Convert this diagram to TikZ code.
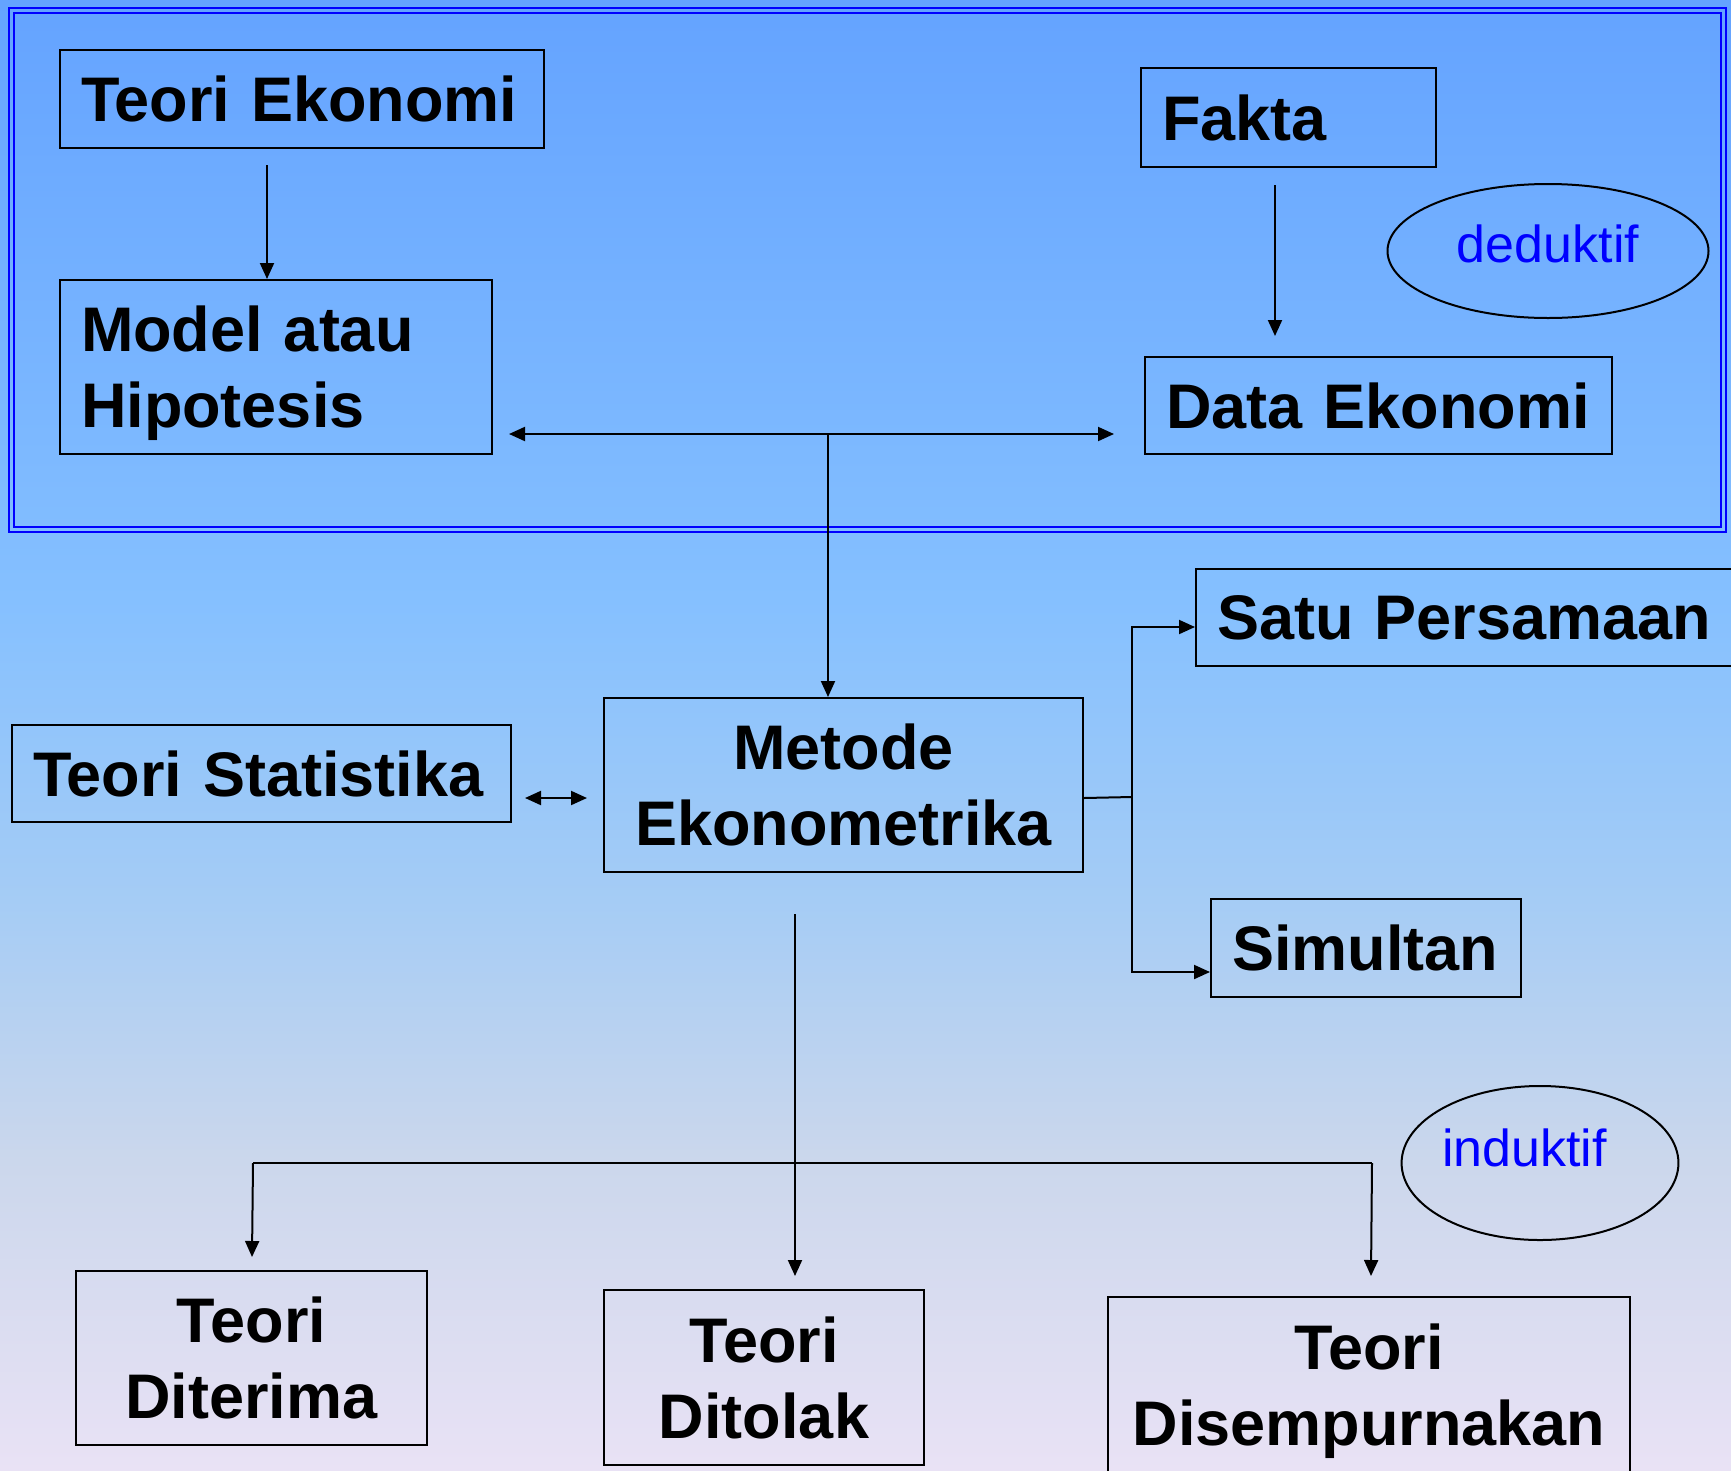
\documentclass[tikz,border=0pt]{standalone}
\usepackage{fontspec}
\setmainfont{Liberation Sans}
\usetikzlibrary{arrows.meta,shapes.geometric,calc}
\definecolor{bgA}{RGB}{100,163,255}
\definecolor{bgB}{RGB}{133,192,255}
\definecolor{bgC}{RGB}{165,204,245}
\definecolor{bgD}{RGB}{203,215,236}
\definecolor{bgE}{RGB}{233,226,245}
\definecolor{frameblue}{RGB}{0,0,255}
\pgfdeclareverticalshading{bgshade}{100bp}{color(0bp)=(bgE); color(25bp)=(bgE); color(35.54bp)=(bgD); color(44.39bp)=(bgC); color(54.59bp)=(bgB); color(75bp)=(bgA); color(100bp)=(bgA)}
\begin{document}
\begin{tikzpicture}[x=1pt,y=-1pt,
  box/.style={draw=black, line width=2pt, inner xsep=21pt, inner ysep=0pt, font=\fontsize{63pt}{76pt}\selectfont\bfseries},
  lbox/.style={box, align=left},
  cbox/.style={box, align=center},
  arr/.style={line width=2pt, -{Triangle[length=16pt,width=14pt]}},
  arrs/.style={line width=2pt, {Triangle[length=16pt,width=14pt]}-{Triangle[length=16pt,width=14pt]}},
  link/.style={line width=2pt},
  oval/.style={ellipse, draw=black, line width=2pt, inner sep=0pt, text=frameblue, font=\fontsize{52pt}{62pt}\selectfont},
  frameline/.style={draw=frameblue, line width=2.2pt}
]
\useasboundingbox (0,0) rectangle (1731,1470);
\shade[shading=bgshade] (0,0) rectangle (1731,1470);

% double blue frame
\draw[frameline] (9,8) rectangle (1726,532);
\draw[frameline] (14,13) rectangle (1721,527);

% boxes
\node[lbox, text width=442pt, minimum height=98pt] (te) at (302,99) {Teori Ekonomi};
\node[lbox, text width=390pt, minimum height=174pt] (model) at (276,367) {Model atau\\Hi\smash{p}otesis};
\node[lbox, text width=253pt, minimum height=99pt] (fakta) at (1288.5,117.5) {Fakta};
\node[lbox, text width=425pt, minimum height=97pt] (data) at (1378.5,405.5) {Data Ekonomi};
\node[lbox, text width=457pt, minimum height=97pt] (ts) at (261.5,773.5) {Teori Statistika};
\node[cbox, minimum width=479pt, minimum height=174pt] (me) at (843.5,785) {Metode\\Ekonometrika};
\node[lbox, text width=518pt, minimum height=97pt] (sp) at (1476,617.5) {Satu Persamaan};
\node[lbox, text width=268pt, minimum height=98pt] (sim) at (1366,948) {Simultan};
\node[cbox, minimum width=351pt, minimum height=174pt] (ter) at (251.5,1358) {Teori\\Diterima};
\node[cbox, minimum width=320pt, minimum height=175pt] (tol) at (764,1377.5) {Teori\\Ditolak};
\node[cbox, minimum width=522pt, minimum height=175pt] (sem) at (1369,1384.5) {Teori\\Disem\smash{p}urnakan};

% ellipses
\node[oval, minimum width=321pt, minimum height=134pt, text depth=14pt] (ded) at (1548,251) {deduktif};
\node[oval, minimum width=274pt, minimum height=154pt, text depth=30pt] (ind) at (1540,1163) {induktif\hspace*{31pt}};

% connectors
\draw[arr] ($(te.south west)+(208,16)$) -- ($(model.north west)+(208,0)$);
\draw[arr] ($(fakta.south west)+(135,17)$) -- ($(data.north west)+(131,-20)$);
\draw[arrs] ($(model.south east)+(16,-21)$) -- ($(data.south west)+(-30,-21)$);
\coordinate (hub) at (828,433);
\draw[arr] (hub) -- (me.north -| hub);
\draw[arrs] ($(ts.south east)+(13,-25)$) -- ($(me.south west)+(-16,-75)$);
\coordinate (split) at (1132,797);
\draw[link] ($(me.south east)+(0,-75)$) -- (split);
\draw[arr] (split) |- ($(sp.south west)+(0,-40)$);
\draw[arr] (split) |- ($(sim.south west)+(0,-26)$);
\draw[arr] ($(me.south west)+(192,41)$) -- ($(tol.north west)+(192,-13)$);
\coordinate (barL) at (253,1163);
\coordinate (barR) at (1372,1163);
\draw[link] (barL) -- (barR);
\draw[arr] (barL) -- ($(ter.north west)+(177,-13)$);
\draw[arr] (barR) -- ($(sem.north west)+(264,-20)$);
\end{tikzpicture}
\end{document}
